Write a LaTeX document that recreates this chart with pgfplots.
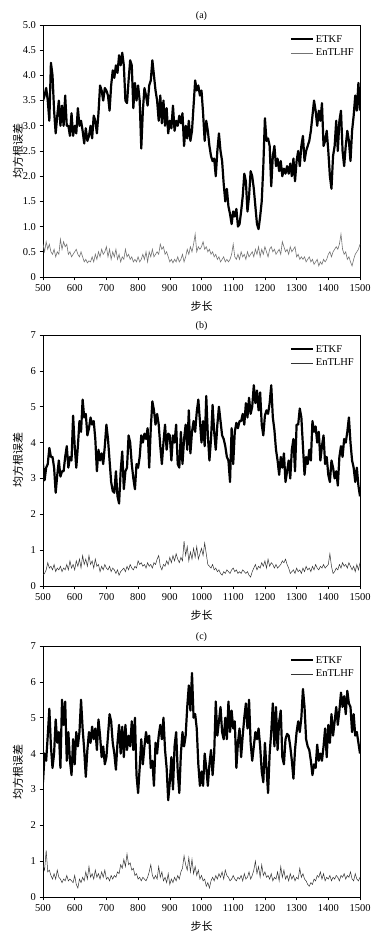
\documentclass[border=0pt]{standalone}
\usepackage{pgfplots}
\pgfplotsset{compat=1.18}
\usepackage{pgfplotstable}
\usepackage{fontspec}
\setmainfont{Liberation Serif}
\newfontfamily\cjk{Noto Sans CJK SC}

\pgfplotstableread{
x e h
500 3.50 0.65
505 3.60 0.50
510 3.75 0.70
515 3.50 0.55
520 3.10 0.65
525 4.25 0.50
530 4.00 0.45
535 3.30 0.55
540 2.85 0.40
545 3.20 0.50
550 3.50 0.45
555 3.00 0.75
560 3.40 0.55
565 3.00 0.70
570 3.60 0.60
575 3.00 0.65
580 3.00 0.45
585 2.80 0.50
590 3.25 0.40
595 2.80 0.45
600 3.00 0.50
605 2.85 0.55
610 3.35 0.45
615 3.00 0.40
620 3.10 0.50
625 2.90 0.40
630 2.65 0.30
635 2.95 0.35
640 2.70 0.28
645 2.80 0.32
650 3.00 0.30
655 2.75 0.40
660 3.20 0.30
665 3.10 0.45
670 2.85 0.35
675 3.25 0.50
680 3.80 0.40
685 3.70 0.55
690 3.50 0.45
695 3.75 0.50
700 3.70 0.60
705 3.60 0.40
710 3.30 0.55
715 3.80 0.35
720 4.10 0.50
725 3.95 0.40
730 4.20 0.55
735 4.05 0.35
740 4.40 0.45
745 4.20 0.30
750 4.45 0.40
755 4.20 0.35
760 3.50 0.55
765 3.45 0.40
770 3.90 0.45
775 4.30 0.35
780 4.20 0.40
785 3.35 0.30
790 3.85 0.35
795 3.50 0.30
800 3.80 0.40
805 3.50 0.30
810 2.55 0.35
815 3.30 0.45
820 3.75 0.35
825 3.60 0.50
830 3.40 0.30
835 3.80 0.50
840 3.90 0.40
845 4.30 0.55
850 4.00 0.40
855 3.70 0.45
860 3.50 0.50
865 3.10 0.45
870 3.60 0.65
875 3.05 0.55
880 3.50 0.60
885 3.00 0.45
890 3.35 0.50
895 2.85 0.40
900 3.10 0.30
905 2.95 0.35
910 3.40 0.28
915 2.90 0.35
920 3.10 0.30
925 3.00 0.40
930 3.20 0.30
935 3.05 0.35
940 3.25 0.45
945 2.60 0.30
950 3.00 0.40
955 2.75 0.55
960 3.10 0.45
965 2.70 0.60
970 2.90 0.50
975 3.40 0.65
980 3.90 0.85
985 3.70 0.50
990 3.80 0.60
995 3.60 0.55
1000 3.70 0.60
1005 3.25 0.70
1010 2.70 0.55
1015 3.10 0.60
1020 2.90 0.50
1025 2.60 0.55
1030 2.40 0.45
1035 2.30 0.50
1040 2.35 0.40
1045 2.00 0.45
1050 2.50 0.35
1055 2.85 0.40
1060 2.50 0.30
1065 2.30 0.35
1070 1.85 0.40
1075 1.50 0.30
1080 1.75 0.35
1085 1.40 0.30
1090 1.25 0.35
1095 1.05 0.45
1100 1.30 0.65
1105 1.20 0.40
1110 1.35 0.35
1115 1.00 0.45
1120 1.05 0.35
1125 1.30 0.50
1130 1.60 0.40
1135 2.05 0.45
1140 1.90 0.35
1145 1.30 0.50
1150 1.60 0.40
1155 2.10 0.45
1160 2.00 0.50
1165 1.75 0.40
1170 1.40 0.55
1175 1.05 0.45
1180 0.95 0.60
1185 1.20 0.40
1190 1.50 0.55
1195 2.20 0.45
1200 3.15 0.60
1205 2.70 0.50
1210 2.75 0.40
1215 2.60 0.55
1220 1.80 0.60
1225 2.40 0.50
1230 2.60 0.55
1235 2.20 0.45
1240 2.35 0.50
1245 2.10 0.55
1250 2.30 0.45
1255 2.00 0.70
1260 2.15 0.60
1265 2.05 0.50
1270 2.20 0.55
1275 2.05 0.45
1280 2.25 0.60
1285 2.00 0.50
1290 2.35 0.55
1295 1.90 0.60
1300 2.30 0.40
1305 2.50 0.45
1310 2.20 0.35
1315 2.60 0.40
1320 2.80 0.35
1325 2.30 0.40
1330 2.50 0.30
1335 2.60 0.35
1340 2.70 0.40
1345 2.90 0.30
1350 3.20 0.35
1355 3.50 0.25
1360 3.30 0.30
1365 3.00 0.35
1370 3.30 0.22
1375 3.10 0.30
1380 3.45 0.25
1385 2.60 0.35
1390 2.70 0.30
1395 2.90 0.35
1400 2.50 0.45
1405 2.00 0.50
1410 1.75 0.40
1415 2.40 0.50
1420 2.60 0.55
1425 3.10 0.60
1430 2.50 0.55
1435 3.10 0.65
1440 3.30 0.85
1445 2.50 0.55
1450 2.20 0.45
1455 2.60 0.50
1460 2.90 0.35
1465 2.70 0.40
1470 2.30 0.30
1475 2.90 0.22
1480 3.20 0.35
1485 3.60 0.45
1490 3.30 0.50
1495 3.85 0.55
1500 3.30 0.65
}\dataA

\pgfplotstableread{
x e h
500 3.40 0.30
505 2.95 0.35
510 3.30 0.45
515 3.40 0.65
520 3.85 0.50
525 3.60 0.55
530 3.60 0.45
535 3.30 0.60
540 2.60 0.40
545 3.10 0.50
550 3.50 0.45
555 3.05 0.55
560 3.20 0.40
565 3.20 0.50
570 3.60 0.45
575 3.90 0.60
580 3.30 0.45
585 3.60 0.70
590 3.50 0.50
595 4.75 0.60
600 3.90 0.45
605 3.30 0.70
610 3.90 0.55
615 4.60 0.75
620 4.30 0.50
625 5.20 0.85
630 4.70 0.60
635 4.80 0.75
640 4.20 0.55
645 4.40 0.85
650 4.70 0.60
655 4.50 0.70
660 4.60 0.50
665 4.10 0.75
670 3.20 0.55
675 3.80 0.60
680 3.50 0.40
685 3.70 0.55
690 3.40 0.45
695 3.90 0.60
700 4.50 0.50
705 4.10 0.45
710 3.50 0.55
715 2.90 0.40
720 2.65 0.50
725 2.60 0.45
730 3.20 0.35
735 2.50 0.45
740 2.30 0.30
745 3.20 0.40
750 3.75 0.45
755 2.70 0.50
760 3.20 0.40
765 3.30 0.55
770 4.20 0.45
775 4.00 0.60
780 3.40 0.50
785 3.00 0.45
790 2.70 0.55
795 3.40 0.50
800 3.30 0.70
805 3.60 0.60
810 4.20 0.65
815 4.00 0.55
820 4.25 0.60
825 4.10 0.50
830 4.40 0.65
835 3.30 0.55
840 4.40 0.60
845 5.15 0.50
850 4.90 0.65
855 4.50 0.60
860 4.80 0.75
865 4.50 0.85
870 3.90 0.55
875 3.40 0.45
880 4.00 0.60
885 4.50 0.55
890 3.80 0.70
895 4.25 0.60
900 4.20 0.80
905 3.50 0.65
910 4.20 0.85
915 4.00 0.70
920 4.50 0.90
925 3.40 0.75
930 3.30 0.65
935 4.30 0.80
940 3.40 0.70
945 4.10 1.25
950 4.50 0.85
955 3.80 1.10
960 4.90 0.70
965 3.70 0.95
970 4.30 0.75
975 4.60 1.05
980 4.30 0.80
985 4.85 1.10
990 5.20 0.75
995 4.60 0.90
1000 4.00 1.05
1005 4.60 0.85
1010 3.90 1.20
1015 5.30 0.90
1020 4.20 0.60
1025 3.50 0.55
1030 4.10 0.50
1035 5.05 0.60
1040 4.30 0.45
1045 3.80 0.50
1050 4.50 0.40
1055 5.00 0.45
1060 4.60 0.35
1065 4.20 0.30
1070 4.10 0.40
1075 3.90 0.35
1080 3.60 0.45
1085 3.50 0.40
1090 2.90 0.35
1095 4.40 0.45
1100 3.40 0.50
1105 4.30 0.40
1110 4.55 0.45
1115 4.40 0.35
1120 4.60 0.40
1125 4.60 0.35
1130 4.80 0.45
1135 4.50 0.40
1140 5.10 0.35
1145 4.70 0.40
1150 5.25 0.30
1155 4.80 0.25
1160 5.00 0.40
1165 5.60 0.50
1170 5.10 0.60
1175 5.45 0.45
1180 4.90 0.55
1185 5.40 0.50
1190 4.50 0.65
1195 4.20 0.55
1200 4.75 0.70
1205 4.90 0.50
1210 4.80 0.75
1215 5.10 0.55
1220 5.60 0.65
1225 4.70 0.60
1230 4.35 0.50
1235 3.80 0.60
1240 3.50 0.50
1245 3.10 0.55
1250 3.60 0.60
1255 3.30 0.70
1260 3.70 0.65
1265 2.90 0.75
1270 3.20 0.60
1275 3.50 0.50
1280 3.00 0.35
1285 3.80 0.40
1290 4.10 0.45
1295 3.20 0.35
1300 4.50 0.50
1305 4.50 0.40
1310 4.95 0.45
1315 4.70 0.35
1320 3.90 0.50
1325 3.10 0.40
1330 3.60 0.55
1335 3.40 0.45
1340 3.80 0.50
1345 3.50 0.40
1350 4.60 0.55
1355 4.30 0.45
1360 4.45 0.60
1365 4.00 0.50
1370 4.30 0.45
1375 3.50 0.55
1380 3.90 0.50
1385 4.20 0.60
1390 3.40 0.50
1395 3.60 0.55
1400 3.10 0.60
1405 2.90 0.90
1410 3.50 0.55
1415 3.30 0.35
1420 3.00 0.40
1425 3.20 0.50
1430 2.80 0.45
1435 3.60 0.60
1440 3.90 0.50
1445 3.60 0.65
1450 4.10 0.55
1455 4.00 0.60
1460 4.30 0.50
1465 4.70 0.65
1470 4.00 0.55
1475 3.50 0.45
1480 3.30 0.55
1485 2.90 0.40
1490 3.30 0.60
1495 2.80 0.45
1500 2.50 0.65
}\dataB

\pgfplotstableread{
x e h
500 3.20 0.90
505 4.00 0.75
510 3.80 1.30
515 4.50 0.70
520 5.25 0.75
525 4.20 0.60
530 3.60 0.50
535 4.00 0.65
540 4.95 0.50
545 4.30 0.75
550 4.60 0.55
555 3.60 0.50
560 5.50 0.40
565 4.80 0.50
570 5.45 0.45
575 3.80 0.60
580 4.60 0.45
585 3.80 0.50
590 3.40 0.45
595 4.40 0.40
600 3.70 0.60
605 4.60 0.35
610 4.20 0.25
615 4.60 0.50
620 5.50 0.40
625 4.70 0.55
630 4.10 0.45
635 3.35 0.70
640 4.10 0.50
645 4.60 0.85
650 4.30 0.55
655 4.75 0.65
660 4.40 0.50
665 4.70 0.75
670 4.10 0.55
675 4.95 0.65
680 4.50 0.50
685 3.90 0.70
690 4.20 0.55
695 3.70 0.75
700 3.90 0.50
705 4.50 0.55
710 5.10 0.45
715 4.90 0.60
720 4.30 0.50
725 4.00 0.60
730 3.55 0.55
735 4.30 0.70
740 4.80 0.65
745 4.00 0.90
750 4.75 0.80
755 3.90 1.05
760 4.80 0.85
765 4.10 1.20
770 4.50 0.90
775 4.20 0.95
780 4.90 0.75
785 4.10 0.80
790 5.00 0.60
795 3.40 0.65
800 2.90 0.50
805 3.60 0.55
810 4.40 0.45
815 3.70 0.55
820 4.20 0.50
825 4.60 0.45
830 4.30 0.55
835 4.50 0.70
840 3.60 0.90
845 3.80 0.60
850 3.10 0.50
855 4.30 0.60
860 4.00 0.50
865 4.50 0.85
870 4.80 0.55
875 4.40 0.70
880 5.00 0.45
885 4.10 0.55
890 3.60 0.40
895 2.70 0.65
900 3.20 0.35
905 3.90 0.50
910 3.00 0.40
915 4.20 0.55
920 4.60 0.45
925 3.50 0.60
930 2.90 0.50
935 4.00 0.70
940 4.60 0.80
945 4.20 1.15
950 4.50 0.90
955 5.30 0.75
960 5.90 1.10
965 5.20 0.70
970 6.25 1.05
975 5.00 0.65
980 5.10 0.85
985 4.70 0.60
990 3.70 0.75
995 3.10 0.50
1000 3.50 0.60
1005 3.10 0.45
1010 4.00 0.50
1015 3.60 0.30
1020 3.10 0.40
1025 3.70 0.25
1030 4.10 0.45
1035 3.40 0.55
1040 4.00 0.45
1045 5.45 0.60
1050 4.50 0.50
1055 4.90 0.65
1060 5.30 0.55
1065 4.60 0.70
1070 4.40 0.50
1075 5.00 0.75
1080 4.40 0.60
1085 5.45 0.55
1090 4.60 0.45
1095 5.20 0.50
1100 4.70 0.60
1105 4.90 0.50
1110 3.60 0.45
1115 4.30 0.55
1120 4.70 0.50
1125 3.90 0.60
1130 4.50 0.45
1135 5.00 0.65
1140 5.40 0.50
1145 4.70 0.55
1150 5.50 0.70
1155 4.30 0.50
1160 3.80 0.60
1165 4.20 0.75
1170 4.60 1.00
1175 4.40 0.65
1180 4.70 0.85
1185 4.20 0.55
1190 3.50 0.90
1195 3.20 0.60
1200 4.30 0.70
1205 3.60 0.55
1210 2.90 0.60
1215 4.00 0.50
1220 4.60 0.65
1225 5.40 0.45
1230 4.20 0.55
1235 5.30 0.50
1240 4.10 0.70
1245 4.90 0.45
1250 5.20 0.85
1255 3.90 0.55
1260 3.70 0.75
1265 4.40 0.50
1270 4.55 0.60
1275 4.50 0.45
1280 4.20 0.65
1285 3.80 0.50
1290 3.30 0.60
1295 4.10 0.45
1300 4.60 0.55
1305 4.90 0.50
1310 4.60 0.80
1315 5.00 0.55
1320 5.80 0.65
1325 5.30 0.50
1330 4.40 0.45
1335 4.20 0.35
1340 4.10 0.30
1345 3.80 0.40
1350 3.40 0.35
1355 3.70 0.50
1360 3.60 0.45
1365 4.25 0.60
1370 3.80 0.55
1375 4.00 0.70
1380 3.80 0.50
1385 4.20 0.65
1390 4.70 0.45
1395 3.90 0.55
1400 4.80 0.50
1405 4.30 0.60
1410 5.10 0.45
1415 4.50 0.55
1420 4.90 0.50
1425 5.30 0.60
1430 4.80 0.55
1435 5.20 0.45
1440 5.70 0.60
1445 5.30 0.55
1450 5.60 0.65
1455 5.10 0.50
1460 5.75 0.60
1465 5.40 0.55
1470 5.30 0.70
1475 4.60 0.50
1480 5.10 0.45
1485 4.50 0.65
1490 4.60 0.50
1495 4.30 0.45
1500 4.00 0.55
}\dataC

\pgfplotsset{
  panel/.style={
    anchor=south west,
    width=317pt, height=251pt, scale only axis,
    xmin=500, xmax=1500, ymin=0,
    xtick={500,600,...,1500},
    tick align=outside, tick pos=left,
    major tick length=3.5pt,
    every tick/.style={black, line width=0.6pt},
    axis line style={line width=0.8pt},
    /pgf/number format/1000 sep={},
    /pgf/number format/assume math mode=true,
    tick label style={font=\fontsize{10.5}{12}\selectfont},
    xlabel={\cjk 步长},
    xlabel style={at={(axis description cs:0.5,-0.115)}, anchor=center, font=\fontsize{11}{13}\selectfont},
    ylabel={\cjk 均方根误差},
    ylabel style={at={(axis description cs:-0.079,0.5)}, anchor=center, font=\fontsize{11}{13}\selectfont},
    every axis title shift=0pt,
    title style={at={(axis description cs:0.5,1.035)}, anchor=center, font=\fontsize{10}{12}\selectfont},
    legend style={draw=none, fill=none, at={(1,1)}, anchor=north east, xshift=-3pt, yshift=-7pt,
      font=\fontsize{10.5}{12}\selectfont, row sep=1.5pt, inner sep=1pt},
    legend cell align=left,
    legend image code/.code={\draw[#1] (0pt,0pt) -- (22pt,0pt);},
  }
}

\begin{document}
\begin{tikzpicture}
\useasboundingbox (0,0) rectangle (387pt,938pt);
\begin{axis}[panel, at={(43pt,661pt)}, height=252pt, ymax=5,
  ytick={0,0.5,...,5}, yticklabels={0,0.5,1.0,1.5,2.0,2.5,3.0,3.5,4.0,4.5,5.0},
  title={(a)}]
\addplot[black, line width=2.2pt, line join=round] table[x=x,y=e] {\dataA};
\addlegendentry{ETKF}
\addplot[black!55, line width=0.6pt] table[x=x,y=h] {\dataA};
\addlegendentry{EnTLHF}
\end{axis}

\begin{axis}[panel, at={(43pt,352pt)}, ymax=7,
  ytick={0,1,...,7}, title={(b)}]
\addplot[black, line width=2.2pt, line join=round] table[x=x,y=e] {\dataB};
\addlegendentry{ETKF}
\addplot[black!80, line width=0.5pt] table[x=x,y=h] {\dataB};
\addlegendentry{EnTLHF}
\end{axis}

\begin{axis}[panel, at={(43pt,41pt)}, ymax=7,
  ytick={0,1,...,7}, title={(c)}]
\addplot[black, line width=2.2pt, line join=round] table[x=x,y=e] {\dataC};
\addlegendentry{ETKF}
\addplot[black!80, line width=0.5pt] table[x=x,y=h] {\dataC};
\addlegendentry{EnTLHF}
\end{axis}
\end{tikzpicture}
\end{document}
